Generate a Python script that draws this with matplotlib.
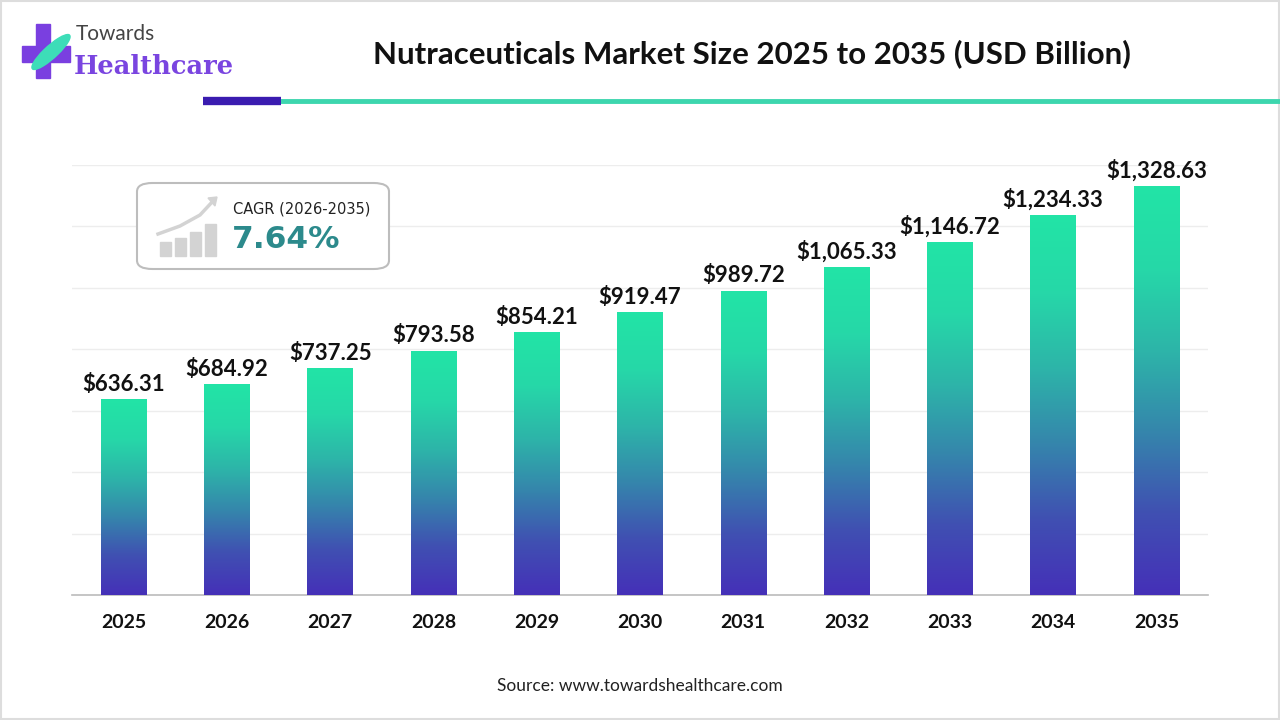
import matplotlib.pyplot as plt
import numpy as np
from matplotlib.colors import LinearSegmentedColormap
from matplotlib.patches import FancyBboxPatch, Rectangle, Polygon, Ellipse
from matplotlib.lines import Line2D

# Data
years = ["2025", "2026", "2027", "2028", "2029", "2030", "2031", "2032", "2033", "2034", "2035"]
values = [636.31, 684.92, 737.25, 793.58, 854.21, 919.47, 989.72, 1065.33, 1146.72, 1234.33, 1328.63]
cagr_label = "CAGR (2026-2035)"
cagr_value = "7.64%"

plt.rcParams['font.family'] = ['Lato', 'DejaVu Sans']

fig = plt.figure(figsize=(12.8, 7.2), dpi=100)
ax = fig.add_axes([0.05625, 0.1736, 0.8875, 0.5972])

cmap = LinearSegmentedColormap.from_list(
    "bars", ["#4530B8", "#4050B2", "#3586AC", "#2DB5A9", "#26D8A8", "#22E4A6"])
grad = np.linspace(0, 1, 256).reshape(-1, 1)

bar_w = 0.44
x = np.arange(len(years))
for xi, v in zip(x, values):
    ax.imshow(grad, extent=(xi - bar_w / 2, xi + bar_w / 2, 0, v), origin='lower',
              cmap=cmap, aspect='auto', zorder=3)
    ax.text(xi, v + 16, "${:,.2f}".format(v), ha='center', va='bottom',
            fontsize=16, fontweight='bold', color='#111111', zorder=4)

ax.set_xlim(-0.5, len(years) - 0.5)
ax.set_ylim(0, 1400)
ax.set_yticks(np.arange(200, 1401, 200))
ax.yaxis.grid(True, color='#EDEDED', linewidth=1, zorder=0)
ax.set_axisbelow(True)
ax.tick_params(axis='y', left=False, labelleft=False)
ax.set_xticks(x)
ax.set_xticklabels(years, fontsize=14, fontweight='bold', color='#111111')
ax.tick_params(axis='x', length=0, pad=14)
for s in ['top', 'right', 'left']:
    ax.spines[s].set_visible(False)
ax.spines['bottom'].set_color('#BBBBBB')
ax.spines['bottom'].set_linewidth(1.2)

# Title and decoration lines
fig.text(0.5875, 0.926, "Nutraceuticals Market Size 2025 to 2035 (USD Billion)",
         ha='center', va='center', fontsize=22.5, fontweight='bold', color='#111111')
fig.add_artist(Line2D([281 / 1280, 1.0], [1 - 101 / 720] * 2, color='#3DD6AE', lw=3.5))
fig.add_artist(Line2D([203 / 1280, 281 / 1280], [1 - 101 / 720] * 2, color='#3A1CB0', lw=6,
                      solid_capstyle='butt'))

# Logo
W, H = 1280, 720
def fx(px):
    return px / W
def fy(py):
    return 1 - py / H
fig.add_artist(Rectangle((fx(36), fy(78)), fx(14), 54 / H, color='#7A3FE0'))
fig.add_artist(Rectangle((fx(22), fy(62)), fx(48), 16 / H, color='#7A3FE0'))
fig.add_artist(Ellipse((fx(51), fy(52)), fx(16), 40 / H, angle=-30, color='#3DDDB8'))
fig.text(fx(76), fy(34), "Towards", fontsize=15, color='#444444', va='center', ha='left')
fig.text(fx(74), fy(66), "Healthcare", fontsize=18.5, color='#7A45E0', va='center', ha='left',
         family='DejaVu Serif', fontweight='bold')

# CAGR box
box = FancyBboxPatch((fx(137), fy(269)), fx(252), 86 / H,
                     boxstyle="round,pad=0,rounding_size=0.012",
                     transform=fig.transFigure, facecolor='#FFFFFF',
                     edgecolor='#BDBDBD', linewidth=1.5, zorder=5)
fig.add_artist(box)
for bx, bh in [(160, 14), (175, 18), (190, 24), (205, 32)]:
    fig.add_artist(Rectangle((fx(bx), fy(256)), fx(11), bh / H, color='#D3D3D3', zorder=6))
fig.add_artist(Line2D([fx(158), fx(180), fx(200), fx(214)],
                      [fy(234), fy(226), fy(215), fy(200)], color='#D3D3D3', lw=2.5, zorder=6))
fig.add_artist(Polygon([[fx(208), fy(198)], [fx(217), fy(197)], [fx(215), fy(206)]],
                       closed=True, color='#D3D3D3', zorder=6))
fig.text(fx(233), fy(209), cagr_label, fontsize=10.5, color='#222222', va='center', ha='left',
         family='DejaVu Sans', zorder=7)
fig.text(fx(232), fy(240), cagr_value, fontsize=22.5, color='#2C8A8C', va='center', ha='left',
         family='DejaVu Sans', fontweight='bold', zorder=7)

# Source
fig.text(0.5, fy(686), "Source: www.towardshealthcare.com", ha='center', va='center',
         fontsize=12.5, color='#222222')

# Border
fig.add_artist(Rectangle((0.001, 0.001), 0.998, 0.998, fill=False, edgecolor='#DDDDDD', lw=1.5))

fig.savefig("out.png", dpi=100, facecolor='white')
